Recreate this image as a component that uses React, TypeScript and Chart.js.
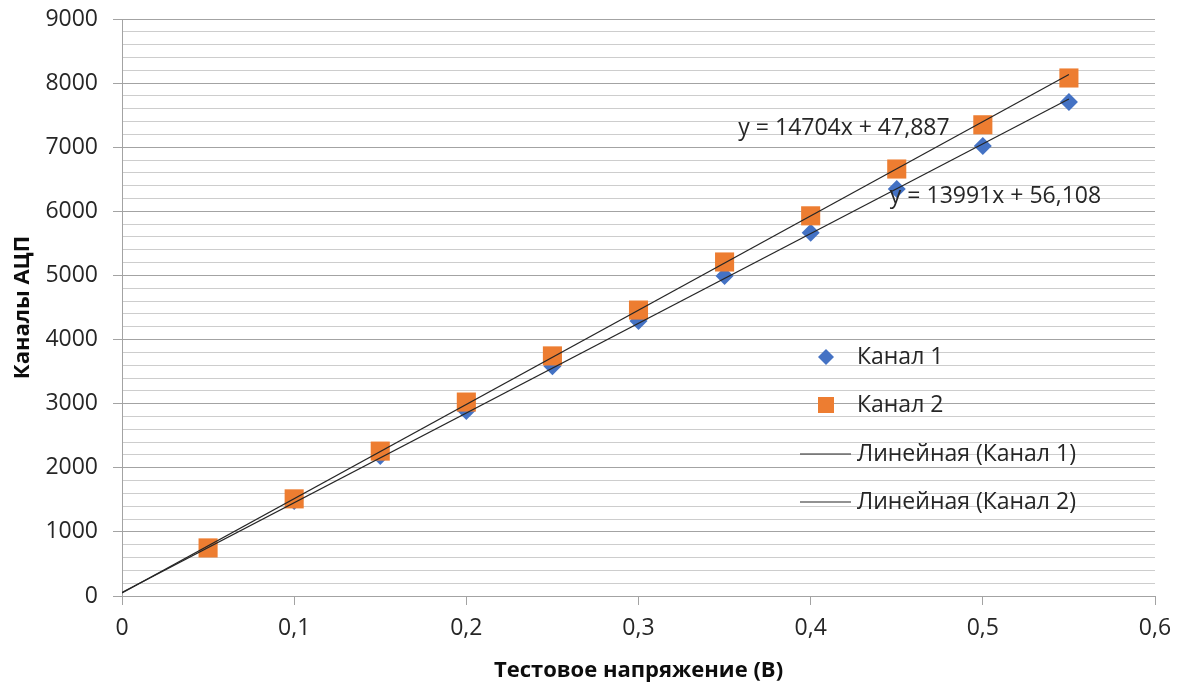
import React, { useEffect, useRef } from "react";
import { Chart, registerables } from "chart.js";

Chart.register(...registerables);

const xValues = [0.05, 0.1, 0.15, 0.2, 0.25, 0.3, 0.35, 0.4, 0.45, 0.5, 0.55];
const channel1 = [750, 1480, 2185, 2885, 3585, 4290, 4990, 5665, 6350, 7020, 7705];
const channel2 = [750, 1515, 2260, 3025, 3745, 4460, 5210, 5930, 6660, 7350, 8080];
const trend1X = [0, 0.55];
const trend1Y = [56.108, 7751.158];
const trend2X = [0, 0.55];
const trend2Y = [47.887, 8135.087];
const eq1Text = "y = 14704x + 47,887";
const eq2Text = "y = 13991x + 56,108";
const legendLabels = ["Канал 1", "Канал 2", "Линейная (Канал 1)", "Линейная (Канал 2)"];
const yTitle = "Каналы АЦП";
const xTitle = "Тестовое напряжение (В)";

const BLUE = "#4472C4";
const ORANGE = "#ED7D31";
const TREND = "#262626";
const MAJOR = "#a3a3a3";
const MINOR = "#cdcdcd";
const TEXT = "#262626";
const FONT = "'Open Sans', sans-serif";

const overlayPlugin = {
  id: "overlay",
  afterDatasetsDraw(chart: any) {
    const ctx = chart.ctx;
    const xs = chart.scales.x;
    const ys = chart.scales.y;
    ctx.save();
    ctx.font = `23px ${FONT}`;
    ctx.fillStyle = TEXT;
    ctx.textBaseline = "middle";
    ctx.textAlign = "left";
    // trendline equations anchored in data coordinates
    ctx.fillText(eq1Text, xs.getPixelForValue(0.358), ys.getPixelForValue(7300));
    ctx.fillText(eq2Text, xs.getPixelForValue(0.446), ys.getPixelForValue(6225));

    // legend
    const lx = 826;
    const tx = 857;
    const rows = [357, 405, 454, 502];
    ctx.fillStyle = BLUE;
    ctx.beginPath();
    ctx.moveTo(lx - 8, rows[0]);
    ctx.lineTo(lx, rows[0] - 8);
    ctx.lineTo(lx + 8, rows[0]);
    ctx.lineTo(lx, rows[0] + 8);
    ctx.closePath();
    ctx.fill();
    ctx.fillStyle = ORANGE;
    ctx.fillRect(lx - 8, rows[1] - 8, 16, 16);
    ctx.strokeStyle = TREND;
    ctx.lineWidth = 1.2;
    for (const r of [rows[2], rows[3]]) {
      ctx.beginPath();
      ctx.moveTo(800, r);
      ctx.lineTo(851, r);
      ctx.stroke();
    }
    ctx.fillStyle = TEXT;
    legendLabels.forEach((t, i) => ctx.fillText(t, tx, rows[i]));
    ctx.restore();
  },
};

function zeroPadding(scale: any) {
  scale.paddingTop = 0;
  scale.paddingBottom = 0;
  scale.paddingLeft = 0;
  scale.paddingRight = 0;
}

export default function App() {
  const ref = useRef<HTMLCanvasElement>(null);
  useEffect(() => {
    if (!ref.current) return;
    const chart = new Chart(ref.current, {
      type: "scatter",
      data: {
        datasets: [
          {
            label: "Линейная (Канал 1)",
            type: "line",
            data: trend1X.map((x, i) => ({ x, y: trend1Y[i] })),
            borderColor: TREND,
            borderWidth: 1.2,
            pointRadius: 0,
            showLine: true,
            fill: false,
            order: 1,
          },
          {
            label: "Линейная (Канал 2)",
            type: "line",
            data: trend2X.map((x, i) => ({ x, y: trend2Y[i] })),
            borderColor: TREND,
            borderWidth: 1.2,
            pointRadius: 0,
            showLine: true,
            fill: false,
            order: 2,
          },
          {
            label: "Канал 2",
            data: xValues.map((x, i) => ({ x, y: channel2[i] })),
            pointStyle: "rect",
            pointRadius: 13.5,
            backgroundColor: ORANGE,
            borderColor: ORANGE,
            borderWidth: 0,
            order: 3,
          },
          {
            label: "Канал 1",
            data: xValues.map((x, i) => ({ x, y: channel1[i] })),
            pointStyle: "rectRot",
            pointRadius: 9,
            backgroundColor: BLUE,
            borderColor: BLUE,
            borderWidth: 0,
            order: 4,
          },
        ],
      },
      options: {
        animation: false,
        responsive: false,
        maintainAspectRatio: false,
        layout: { padding: { left: 0, top: 19, right: 24, bottom: 0 } },
        plugins: {
          legend: { display: false },
          tooltip: { enabled: false },
        },
        scales: {
          x: {
            type: "linear",
            min: 0,
            max: 0.6,
            afterFit(scale: any) {
              scale.height = 90;
              zeroPadding(scale);
            },
            ticks: {
              stepSize: 0.1,
              padding: 10,
              color: TEXT,
              font: { family: FONT, size: 23 },
              callback: (v: any) => {
                const n = Math.round(Number(v) * 10) / 10;
                return n === 0 ? "0" : n.toFixed(1).replace(".", ",");
              },
            },
            grid: {
              drawOnChartArea: false,
              drawTicks: true,
              tickLength: 9,
              tickColor: MAJOR,
              tickWidth: 1,
            },
            border: { display: true, color: MAJOR, width: 1 },
            title: {
              display: true,
              text: xTitle,
              color: "#0d0d0d",
              font: { family: FONT, size: 22, weight: "bold" },
              padding: { top: 0, bottom: 2 },
            },
          },
          y: {
            type: "linear",
            min: 0,
            max: 9000,
            afterFit(scale: any) {
              scale.width = 122;
              zeroPadding(scale);
            },
            ticks: {
              stepSize: 200,
              autoSkip: false,
              padding: 15,
              color: TEXT,
              font: { family: FONT, size: 23 },
              callback: (v: any) => (Number(v) % 1000 === 0 ? String(v) : ""),
            },
            grid: {
              drawTicks: true,
              tickLength: 9,
              lineWidth: 1,
              color: (c: any) => (c.tick && c.tick.value % 1000 === 0 ? MAJOR : MINOR),
              tickColor: (c: any) => (c.tick && c.tick.value % 1000 === 0 ? MAJOR : "rgba(0,0,0,0)"),
            },
            border: { display: true, color: MAJOR, width: 1 },
            title: {
              display: true,
              text: yTitle,
              color: "#0d0d0d",
              font: { family: FONT, size: 22, weight: "bold" },
              padding: { top: 10, bottom: 0 },
            },
          },
        },
      },
      plugins: [overlayPlugin],
    } as any);
    return () => chart.destroy();
  }, []);
  return (
    <div style={{ position: "fixed", left: 0, top: 0, width: 1179, height: 686, background: "#fff" }}>
      <canvas ref={ref} width={1179} height={686} style={{ display: "block" }} />
    </div>
  );
}
